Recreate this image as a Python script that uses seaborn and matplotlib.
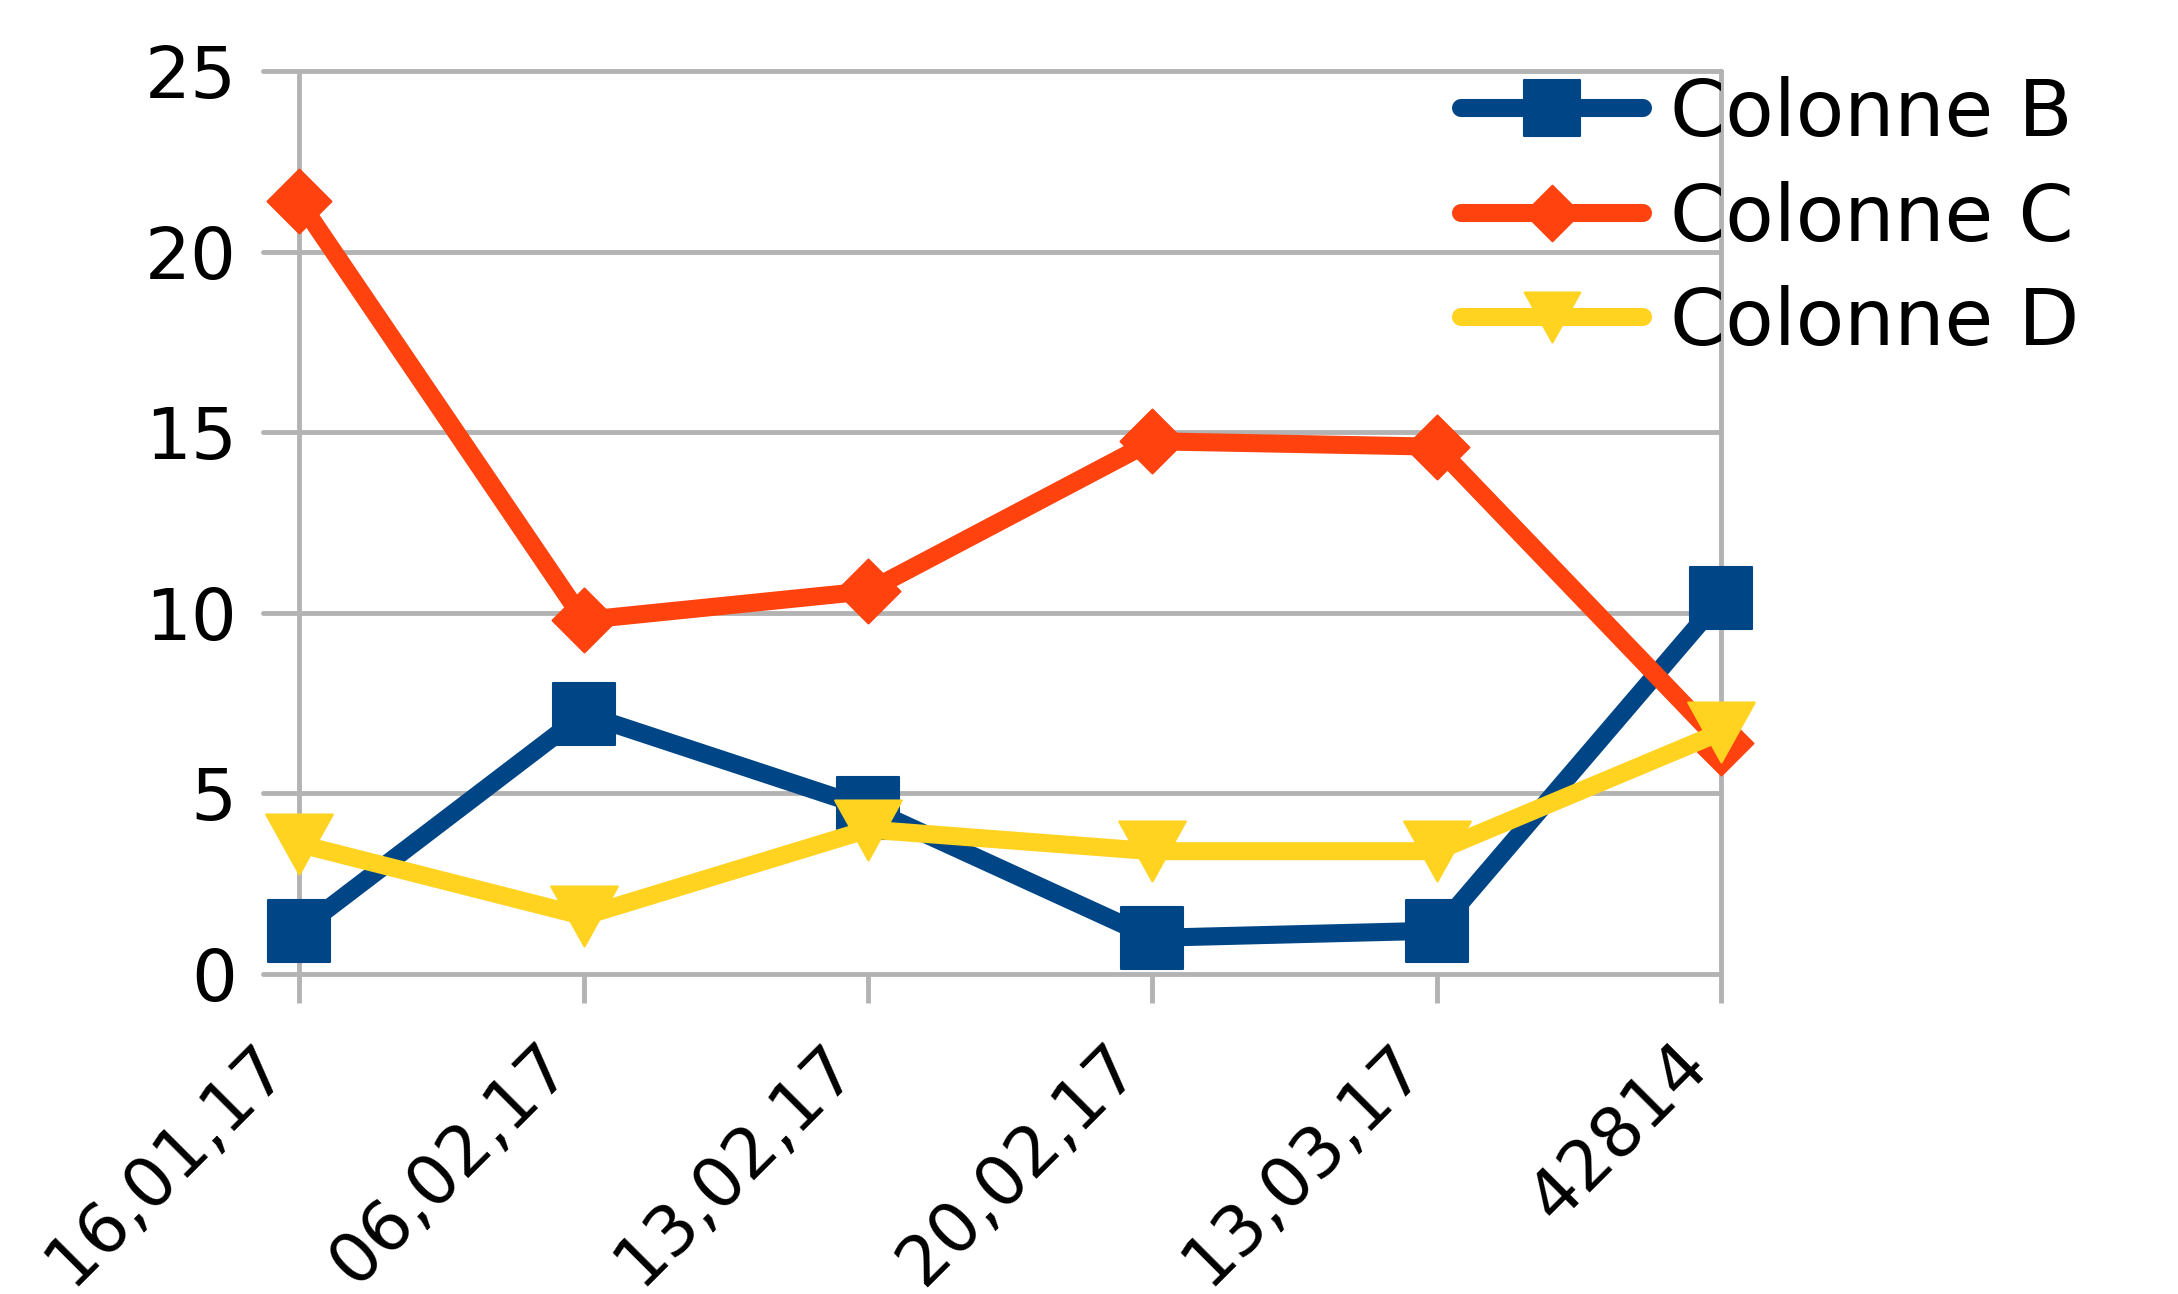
import matplotlib
matplotlib.use("Agg")
import matplotlib.pyplot as plt
from matplotlib.path import Path
import seaborn as sns

# data
dates = ["16,01,17", "06,02,17", "13,02,17", "20,02,17", "13,03,17", "42814"]
colonne_b = [1.2, 7.2, 4.6, 1.0, 1.2, 10.4]
colonne_c = [21.4, 9.8, 10.6, 14.75, 14.6, 6.4]
colonne_d = [3.6, 1.6, 4.0, 3.4, 3.4, 6.7]
series_names = ["Colonne B", "Colonne C", "Colonne D"]

colors = ["#004586", "#ff420e", "#ffd320"]
grid_col = "#b3b3b3"

# LibreOffice-like marker shapes
square = Path([(-1, -1), (1, -1), (1, 1), (-1, 1), (-1, -1)], closed=True)
diamond = Path([(0, 1), (1, 0), (0, -1), (-1, 0), (0, 1)], closed=True)
tri_down = Path([(-1, 0.9), (1, 0.9), (0, -0.9), (-1, 0.9)], closed=True)
markers = [square, diamond, tri_down]
msizes = [45, 46, 48]

sns.set_style("white")
plt.rcParams["font.family"] = ["DejaVu Sans"]
plt.rcParams["text.color"] = "black"

fig = plt.figure(figsize=(21.78, 12.94), dpi=100)
ax = fig.add_axes([0.1208, 0.2473, 0.6694, 0.6978])

for i, vals in enumerate([colonne_b, colonne_c, colonne_d]):
    sns.lineplot(x=dates, y=vals, ax=ax, sort=False, estimator=None,
                 color=colors[i], lw=13, marker=markers[i], markersize=msizes[i],
                 markeredgecolor=colors[i], markeredgewidth=1.5,
                 label=series_names[i], clip_on=False, zorder=3 + i)

ax.set_xlim(-0.127, 5)
ax.set_ylim(0, 25)
ax.set_yticks([0, 5, 10, 15, 20, 25])
ax.set_xlabel("")
ax.set_ylabel("")

for s in ax.spines.values():
    s.set_visible(False)

ax.yaxis.grid(True, color=grid_col, lw=3.5)
ax.xaxis.grid(False)
ax.set_axisbelow(True)
for gl in ax.get_ygridlines():
    gl.set_clip_on(False)
ax.axvline(0, color=grid_col, lw=3.5, zorder=1, clip_on=False)
ax.axvline(5, color=grid_col, lw=3.5, zorder=1, clip_on=False)

ax.tick_params(axis="y", left=False, length=0, pad=19, labelsize=52,
               labelcolor="black")
ax.tick_params(axis="x", bottom=True, length=21, width=3.5, color=grid_col,
               direction="out", pad=20, labelsize=50, labelcolor="black")
plt.setp(ax.get_xticklabels(), rotation=45, ha="right")

leg = ax.legend(loc="upper left", bbox_to_anchor=(1461 / 2178, 1 - 76 / 1294),
                bbox_transform=fig.transFigure, frameon=False, fontsize=57,
                handlelength=2.3, handletextpad=0.34, borderpad=0,
                borderaxespad=0, labelspacing=0.36)
for h in leg.legend_handles:
    h.set_markersize(40)
for t in leg.get_texts():
    t.set_color("black")

fig.savefig("out.png", dpi=100)
